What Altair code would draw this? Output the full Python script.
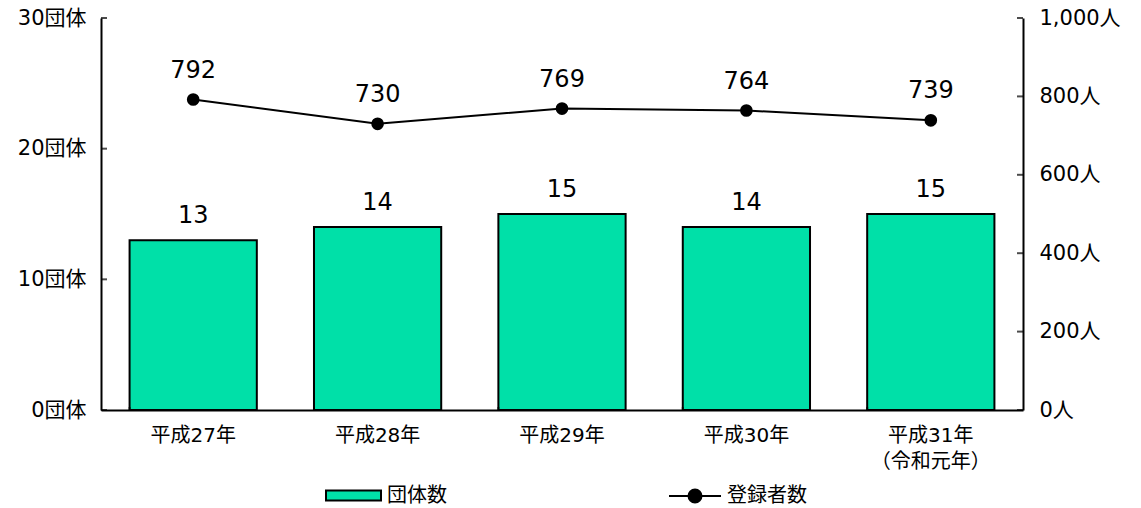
import altair as alt
import pandas as pd

# 年度別の団体数と登録者数
years = ["平成27年", "平成28年", "平成29年", "平成30年", "平成31年|（令和元年）"]
groups = [13, 14, 15, 14, 15]
members = [792, 730, 769, 764, 739]

left_ticks = [0, 10, 20, 30]
right_ticks = [0, 200, 400, 600, 800, 1000]

FONT = "'DejaVu Sans', 'Noto Sans CJK JP'"
BAR_COLOR = "#00E0A8"

df = pd.DataFrame({
    "year": years,
    "groups": groups,
    "members": members,
    "s1": ["団体数"] * len(years),
    "s2": ["登録者数"] * len(years),
})
lt = pd.DataFrame({"v": left_ticks})
rt = pd.DataFrame({"v": right_ticks})
xt = pd.DataFrame({"year": years})

x_scale = alt.Scale(domain=years, paddingInner=0.31, paddingOuter=0.155)
x_enc = alt.X(
    "year:N",
    scale=x_scale,
    sort=years,
    axis=alt.Axis(
        title=None,
        labelExpr="split(datum.label, '|')",
        labelAngle=0,
        ticks=False,
        labelPadding=15,
        labelFontSize=20,
        labelLineHeight=26,
        labelBaseline="top",
        domainWidth=2,
        domainColor="black",
        labelColor="black",
        labelFont=FONT,
    ),
)

y_left = alt.Scale(domain=[0, 30], nice=False)
y_right = alt.Scale(domain=[0, 1000], nice=False)

bars = alt.Chart(df).mark_bar(stroke="black", strokeWidth=2).encode(
    x=x_enc,
    y=alt.Y(
        "groups:Q",
        scale=y_left,
        axis=alt.Axis(
            title=None,
            values=left_ticks,
            labelExpr="datum.value + '団体'",
            ticks=False,
            grid=False,
            labelPadding=15,
            labelFontSize=21,
            domainWidth=2,
            domainColor="black",
            labelColor="black",
            labelFont=FONT,
        ),
    ),
    fill=alt.Fill(
        "s1:N",
        scale=alt.Scale(domain=["団体数"], range=[BAR_COLOR]),
        legend=alt.Legend(
            title=None,
            orient="none",
            legendX=224,
            legendY=449,
            symbolType="M-1,-0.18H1V0.18H-1Z",
            symbolSize=3025,
            symbolStrokeColor="black",
            symbolStrokeWidth=2,
            labelFontSize=20,
            labelFont=FONT,
            labelColor="black",
            labelOffset=5,
        ),
    ),
)

bar_text = alt.Chart(df).mark_text(
    dy=-17, baseline="alphabetic", fontSize=24, font=FONT, color="black"
).encode(x=alt.X("year:N", scale=x_scale, sort=years), y=alt.Y("groups:Q", scale=y_left), text="groups:Q")

left_tick_marks = alt.Chart(lt).mark_tick(color="black", thickness=2, size=6).encode(
    y=alt.Y("v:Q", scale=y_left), x=alt.value(3)
)

x_tick_marks = alt.Chart(xt).mark_tick(color="black", thickness=2, size=6).encode(
    x=alt.X("year:N", scale=x_scale, sort=years, bandPosition=0), y=alt.value(389)
)

left = alt.layer(bars, bar_text, left_tick_marks, x_tick_marks)

line = alt.Chart(df).mark_line(strokeWidth=2).encode(
    x=alt.X("year:N", scale=x_scale, sort=years),
    y=alt.Y(
        "members:Q",
        scale=y_right,
        axis=alt.Axis(
            title=None,
            orient="right",
            values=right_ticks,
            labelExpr="format(datum.value, ',') + '人'",
            ticks=False,
            grid=False,
            labelPadding=16,
            labelFontSize=21,
            domainWidth=2,
            domainColor="black",
            labelColor="black",
            labelFont=FONT,
        ),
    ),
    stroke=alt.Stroke(
        "s2:N",
        scale=alt.Scale(domain=["登録者数"], range=["black"]),
        legend=alt.Legend(
            title=None,
            orient="none",
            legendX=567,
            legendY=451,
            symbolType="M-1,0H1M-0.25,0A0.25,0.25 0 1 1 0.25,0A0.25,0.25 0 1 1 -0.25,0Z",
            symbolSize=2704,
            symbolFillColor="black",
            symbolStrokeColor="black",
            symbolStrokeWidth=2,
            labelFontSize=20,
            labelFont=FONT,
            labelColor="black",
            labelOffset=5,
        ),
    ),
)

points = alt.Chart(df).mark_circle(size=160, color="black", opacity=1).encode(
    x=alt.X("year:N", scale=x_scale, sort=years), y=alt.Y("members:Q", scale=y_right)
)

line_text = alt.Chart(df).mark_text(
    dy=-22, baseline="alphabetic", fontSize=24, font=FONT, color="black"
).encode(x=alt.X("year:N", scale=x_scale, sort=years), y=alt.Y("members:Q", scale=y_right), text="members:Q")

right_tick_marks = alt.Chart(rt).mark_tick(color="black", thickness=2, size=6).encode(
    y=alt.Y("v:Q", scale=y_right), x=alt.value(919)
)

right = alt.layer(line, points, line_text, right_tick_marks)

chart = (
    alt.layer(left, right)
    .resolve_scale(y="independent", fill="independent", stroke="independent")
    .properties(
        width=922,
        height=392,
        autosize=alt.AutoSizeParams(type="none"),
        padding={"left": 101, "top": 18, "right": 118, "bottom": 98},
        background="white",
    )
    .configure_view(stroke=None)
)

chart.save("out.html", embed_options={"renderer": "svg", "actions": False})
